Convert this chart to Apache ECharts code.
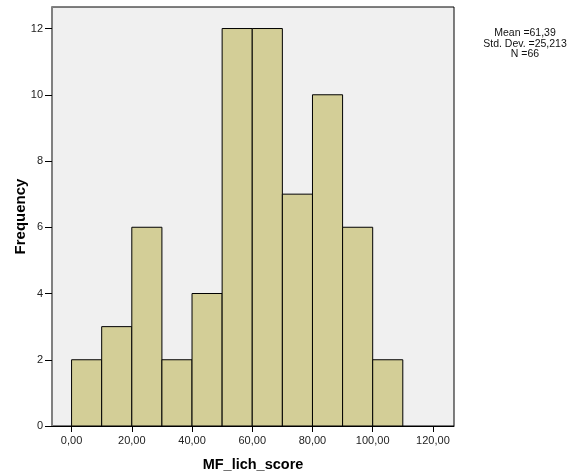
<!DOCTYPE html>
<html>
<head>
<meta charset="utf-8">
<script src="https://cdn.jsdelivr.net/npm/echarts@6/dist/echarts.min.js"></script>
<style>html,body{margin:0;padding:0;background:#fff}#c{width:570px;height:476px}</style>
</head>
<body>
<div id="c"></div>
<script>
var binStarts = [0, 10, 20, 30, 40, 50, 60, 70, 80, 90, 100];
var binWidth = 10;
var counts = [2, 3, 6, 2, 4, 12, 12, 7, 10, 6, 2];
var xTicks = [0, 20, 40, 60, 80, 100, 120];
var yTicks = [0, 2, 4, 6, 8, 10, 12];
var statsLines = ['Mean =61,39', 'Std. Dev. =25,213', 'N =66'];

var data = binStarts.map(function (s, i) { return [s, s + binWidth, counts[i]]; });

var chart = echarts.init(document.getElementById('c'), null, {renderer: 'canvas'});
chart.setOption({
  animation: false,
  backgroundColor: '#ffffff',
  textStyle: {fontFamily: 'Liberation Sans, Arial, sans-serif'},
  grid: {left: 52, right: 116, top: 7, bottom: 50, outerBoundsMode: 'none', containLabel: false,
    show: true, backgroundColor: '#f0f0f0', borderColor: '#000', borderWidth: 1},
  xAxis: {
    type: 'value', min: -6.5, max: 127,
    name: 'MF_lich_score', nameLocation: 'middle', nameGap: 31, nameMoveOverlap: false,
    nameTextStyle: {fontWeight: 'bold', fontSize: 14.5, color: '#000', fontFamily: 'Liberation Sans, Arial, sans-serif'},
    splitLine: {show: false},
    axisLine: {show: true, onZero: false, lineStyle: {color: '#000', width: 1}},
    axisTick: {show: true, length: 6, customValues: xTicks, lineStyle: {color: '#000'}},
    axisLabel: {customValues: xTicks, color: '#222', fontSize: 11, margin: 9,
      formatter: function (v) { return v.toFixed(2).replace('.', ','); }}
  },
  yAxis: {
    type: 'value', min: 0, max: 12.65,
    name: 'Frequency', nameLocation: 'middle', nameGap: 24, nameRotate: 90, nameMoveOverlap: false,
    nameTextStyle: {fontWeight: 'bold', fontSize: 15, color: '#000', fontFamily: 'Liberation Sans, Arial, sans-serif'},
    splitLine: {show: false},
    axisLine: {show: true, onZero: false, lineStyle: {color: '#808080', width: 2}},
    axisTick: {show: true, length: 7, customValues: yTicks, lineStyle: {color: '#000'}},
    axisLabel: {customValues: yTicks, color: '#222', fontSize: 11, margin: 9}
  },
  graphic: [{
    type: 'text', x: 525, y: 28,
    style: {text: statsLines.join('\n'), font: '10.5px Liberation Sans, Arial, sans-serif', fill: '#111', align: 'center', verticalAlign: 'top', lineHeight: 10.5}
  }],
  series: [{
    type: 'custom',
    data: data,
    encode: {x: [0, 1], y: 2},
    renderItem: function (params, api) {
      var p0 = api.coord([api.value(0), 0]);
      var p1 = api.coord([api.value(1), api.value(2)]);
      return {
        type: 'rect',
        shape: {x: p0[0], y: p1[1], width: p1[0] - p0[0], height: p0[1] - p1[1]},
        style: {fill: '#d3ce97', stroke: '#000', lineWidth: 1}
      };
    }
  }]
});
</script>
</body>
</html>
